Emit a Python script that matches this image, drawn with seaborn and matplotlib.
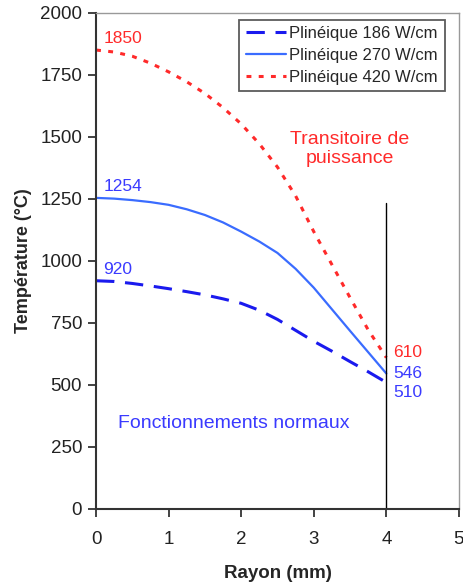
import pandas as pd
import numpy as np
import matplotlib.pyplot as plt
import seaborn as sns

# Data
rayon = [0, 0.25, 0.5, 0.75, 1, 1.25, 1.5, 1.75, 2, 2.25, 2.5, 2.75, 3, 3.25, 3.5, 3.75, 4]
temp_186 = [920, 917, 909, 899, 888, 876, 863, 847, 829, 801, 764, 720, 676, 636, 594, 553, 510]
temp_270 = [1254, 1251, 1245, 1237, 1226, 1208, 1185, 1155, 1118, 1078, 1032, 968, 892, 805, 718, 632, 546]
temp_420 = [1850, 1842, 1825, 1797, 1762, 1722, 1675, 1618, 1552, 1472, 1378, 1262, 1118, 985, 852, 722, 610]
series = ['Plinéique 186 W/cm', 'Plinéique 270 W/cm', 'Plinéique 420 W/cm']

n = len(rayon)
df = pd.DataFrame({
    'Rayon': rayon * 3,
    'Temp': temp_186 + temp_270 + temp_420,
    'Serie': [series[0]] * n + [series[1]] * n + [series[2]] * n,
})

sns.set_style('ticks')
plt.rcParams['font.family'] = ['Liberation Sans', 'DejaVu Sans']

fig = plt.figure(figsize=(4.64, 5.83), dpi=100)
ax = fig.add_axes([0.207, 0.127, 0.782, 0.851])

palette = {series[0]: '#1a1aee', series[1]: '#3a6cff', series[2]: '#ff2a2a'}
widths = {series[0]: 2.2, series[1]: 1.6, series[2]: 2.2}
dashes = {series[0]: (6, 3.5), series[1]: '', series[2]: (1.6, 2.4)}

for s in series:
    sub = df[df['Serie'] == s]
    sns.lineplot(data=sub, x='Rayon', y='Temp', color=palette[s], lw=widths[s],
                 ax=ax, label=s, estimator=None)
    line = ax.get_lines()[-1]
    if dashes[s]:
        line.set_dashes(dashes[s])

# vertical line at fuel radius
ax.plot([4, 4], [0, 1235], color='black', lw=1)

ax.set_xlim(0, 5)
ax.set_ylim(0, 2000)
ax.set_xticks(range(0, 6))
ax.set_yticks(range(0, 2001, 250))
ax.tick_params(labelsize=13.5, length=6, width=1.2, colors='#222222', direction='out')
ax.tick_params(axis='x', pad=10)
ax.tick_params(axis='y', pad=4)
for side in ['left', 'bottom']:
    ax.spines[side].set_color('#333333')
    ax.spines[side].set_linewidth(1.5)
for side in ['top', 'right']:
    ax.spines[side].set_visible(True)
    ax.spines[side].set_color('#999999')
    ax.spines[side].set_linewidth(1)

ax.set_xlabel('Rayon (mm)', fontsize=13.5, fontweight='bold', labelpad=12)
ax.set_ylabel('Température (°C)', fontsize=13, fontweight='bold', labelpad=6)

# value annotations
ax.text(0.1, 1865, '1850', color='#ff2a2a', fontsize=12.5, va='bottom')
ax.text(0.1, 1270, '1254', color='#3a3aff', fontsize=12.5, va='bottom')
ax.text(0.1, 935, '920', color='#3a3aff', fontsize=12.5, va='bottom')
ax.text(4.1, 630, '610', color='#ff2a2a', fontsize=12.5, va='center')
ax.text(4.1, 548, '546', color='#3a3aff', fontsize=12.5, va='center')
ax.text(4.1, 470, '510', color='#3a3aff', fontsize=12.5, va='center')

ax.text(3.5, 1450, 'Transitoire de\npuissance', color='#ff2a2a', fontsize=14,
        ha='center', va='center', linespacing=1.15)
ax.text(0.3, 345, 'Fonctionnements normaux', color='#3a3aff', fontsize=14,
        ha='left', va='center')

leg = ax.legend(loc='upper right', bbox_to_anchor=(0.97, 0.993), fontsize=12,
                frameon=True, fancybox=False, handlelength=2.4, handletextpad=0.2,
                borderpad=0.4, labelspacing=0.4, borderaxespad=0.2)
leg.get_frame().set_edgecolor('#333333')
leg.get_frame().set_linewidth(1.3)

plt.savefig('out.png', dpi=100)
